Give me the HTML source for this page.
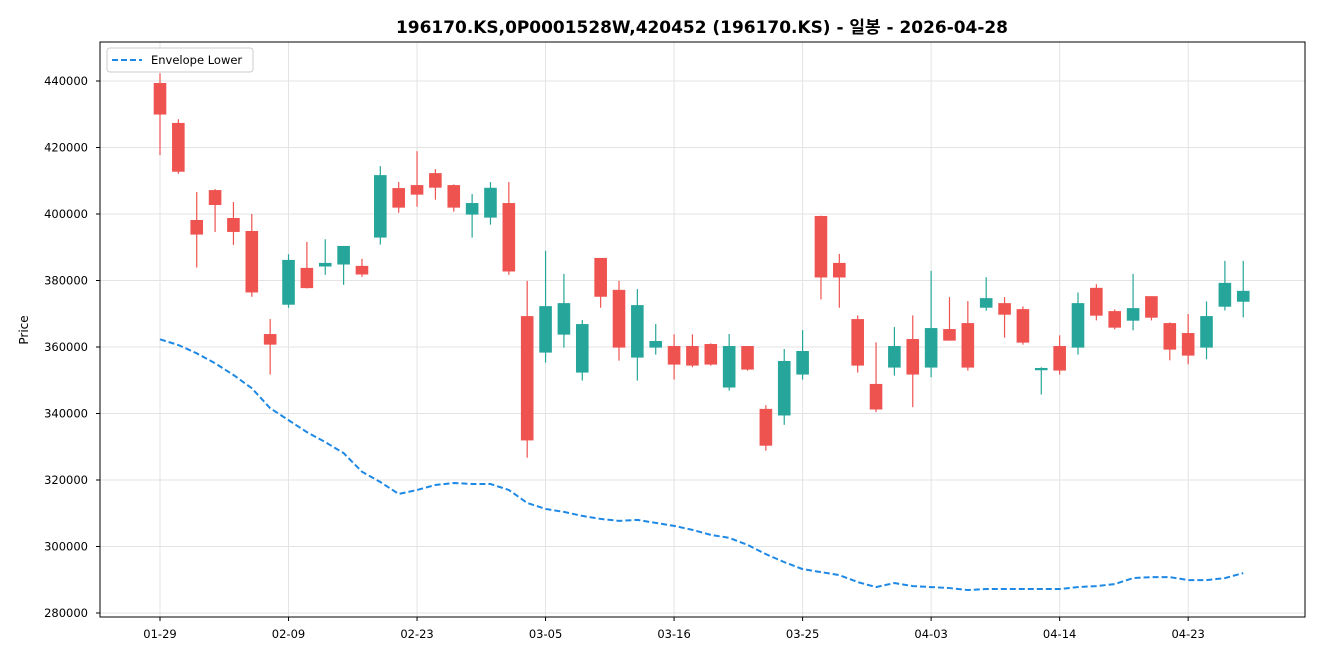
<!DOCTYPE html>
<html><head><meta charset="utf-8">
<style>
html,body{margin:0;padding:0;background:#fff;}
svg{display:block;font-family:"DejaVu Sans","Noto Sans CJK KR",sans-serif;}
</style></head>
<body>
<svg id="chart" width="1320" height="660" viewBox="0 0 1320 660" xmlns="http://www.w3.org/2000/svg">
<rect x="0" y="0" width="1320" height="660" fill="#fff"/>
<text x="396" y="33" textLength="612" lengthAdjust="spacingAndGlyphs" font-size="17" font-weight="bold" fill="#000" font-family="'DejaVu Sans','Noto Sans CJK KR',sans-serif">196170.KS,0P0001528W,420452 (196170.KS) - 일봉 - 2026-04-28</text>
<g id="grid"></g>
<g id="envelope"></g>
<g id="candles"></g>
<rect x="100" y="42" width="1205" height="575" fill="none" stroke="#000" stroke-width="1"/>
<g id="yaxis"></g>
<g id="xaxis"></g>
<text x="28" y="330" text-anchor="middle" font-size="12" transform="rotate(-90 28 330)">Price</text>
<g>
<rect x="107" y="48" width="146" height="24" rx="3" fill="#fff" stroke="#ccc"/>
<line x1="112" y1="60" x2="142" y2="60" stroke="#1e88e5" stroke-width="2" stroke-dasharray="6,3"/>
<text x="151" y="64" font-size="11.5">Envelope Lower</text>
</g>
</svg>
<script>
const opens  = [439.3,427.3,398.1,407.1,398.7,394.8,363.8,372.8,383.7,384.3,384.9,384.3,393.0,407.7,408.6,412.2,408.6,399.9,399.0,403.2,369.2,358.4,363.8,352.4,386.7,377.1,356.9,359.9,360.2,360.2,360.8,347.9,360.2,341.3,339.5,351.8,399.3,385.2,368.3,348.8,353.9,362.3,353.9,365.3,367.1,371.9,373.1,371.3,353.1,360.2,359.9,377.7,370.7,368.0,375.2,367.1,364.1,359.9,372.2,373.7];
const closes = [430.0,412.8,393.9,402.8,394.7,376.5,360.8,386.1,377.8,385.2,390.3,381.9,411.6,402.0,405.9,408.0,402.0,403.2,407.8,382.8,332.0,372.2,373.1,366.8,375.2,359.9,372.5,361.7,354.8,354.5,354.8,360.2,353.3,330.4,355.7,358.7,381.0,381.0,354.5,341.3,360.2,351.8,365.6,362.0,353.9,374.6,369.8,361.4,353.6,353.0,373.1,369.5,365.9,371.6,368.9,359.3,357.5,369.2,379.2,376.8];
const highs  = [442.3,428.5,406.6,407.5,403.6,400.0,368.4,387.9,391.6,392.4,390.3,386.5,414.4,409.6,418.9,413.5,408.9,406.0,409.6,409.6,379.9,388.9,382.0,368.1,386.7,379.9,377.4,366.9,363.8,363.8,361.1,363.9,360.2,342.5,359.4,365.1,399.5,388.0,369.5,361.4,366.0,369.5,382.9,375.0,373.8,381.0,375.0,372.2,353.9,363.5,376.4,378.9,371.3,382.0,375.2,367.4,369.9,373.7,385.9,385.9];
const lows   = [417.7,412.1,383.9,394.6,390.7,375.1,351.7,371.8,377.6,381.7,378.7,381.1,390.8,400.4,402.2,404.3,400.7,392.9,396.8,381.7,326.7,355.3,359.8,349.9,371.8,355.9,349.9,357.7,350.2,353.9,354.4,346.9,352.9,328.8,336.6,350.2,374.3,371.8,352.3,340.4,351.4,341.9,350.9,362.0,352.9,370.9,362.8,360.7,345.7,351.7,357.7,368.0,365.3,365.0,368.0,356.0,354.8,356.3,371.0,368.9];
const envelopeLower = [362.3,360.6,358.1,355.1,351.6,347.6,341.6,338.0,334.4,331.4,328.1,322.5,319.4,315.8,317.0,318.5,319.1,318.8,318.8,317.0,313.1,311.3,310.4,309.2,308.3,307.7,308.0,307.1,306.2,305.0,303.5,302.6,300.5,297.7,295.3,293.2,292.3,291.4,289.3,287.8,289.0,288.1,287.8,287.5,286.9,287.2,287.2,287.2,287.2,287.2,287.8,288.1,288.7,290.5,290.8,290.8,289.9,289.9,290.5,292.0];
const yTicks = [280,300,320,340,360,380,400,420,440];
const xTickIdx = [0,7,14,21,28,35,42,49,56];
const xTickLabels = ["01-29","02-09","02-23","03-05","03-16","03-25","04-03","04-14","04-23"];

const NS = "http://www.w3.org/2000/svg";
function xPos(i){ return 160 + i*18.36; }
function yPos(v){ return 613 - (v-280)*3.325; }
function mk(tag, attrs, parent){ const e=document.createElementNS(NS,tag); for(const k in attrs) e.setAttribute(k,attrs[k]); parent.appendChild(e); return e; }

const grid=document.getElementById('grid'), yax=document.getElementById('yaxis'), xax=document.getElementById('xaxis');
yTicks.forEach(t=>{
  const y=yPos(t);
  const g=mk('line',{x1:100,x2:1305,y1:y,y2:y,stroke:'#e3e3e3','stroke-width':1},grid);
  
  
  mk('line',{x1:96,x2:100,y1:y,y2:y,stroke:'#000'},yax);
  const tx=mk('text',{x:88,y:y+4,'text-anchor':'end','font-size':11.5},yax);
  tx.textContent=String(t*1000);
  
  
});
xTickIdx.forEach((idx,k)=>{
  const x=xPos(idx);
  const g=mk('line',{x1:x,x2:x,y1:42,y2:617,stroke:'#e3e3e3','stroke-width':1},grid);
  
  
  mk('line',{x1:x,x2:x,y1:617,y2:621,stroke:'#000'},xax);
  const tx=mk('text',{x:x,y:638,'text-anchor':'middle','font-size':11.5},xax);
  tx.textContent=xTickLabels[k];
  
  
});
const cg=document.getElementById('candles');
opens.forEach((o,i)=>{
  const c=closes[i], up=c>=o, col=up?'#26a69a':'#ef5350', x=xPos(i);
  const w=mk('line',{x1:x,x2:x,y1:yPos(highs[i]),y2:yPos(lows[i]),stroke:col,'stroke-width':1.2},cg);
  
  
  const top=yPos(Math.max(o,c)), bot=yPos(Math.min(o,c));
  const b=mk('rect',{x:x-6,y:top,width:12,height:Math.max(1.2,bot-top),fill:col,stroke:col,'stroke-width':0.6},cg);
  
  
});
const pts=envelopeLower.map((v,i)=>xPos(i)+','+yPos(v)).join(' ');
const pl=mk('polyline',{points:pts,fill:'none',stroke:'#1e88e5','stroke-width':2,'stroke-dasharray':'6,3'},document.getElementById('envelope'));


</script>
</body></html>
